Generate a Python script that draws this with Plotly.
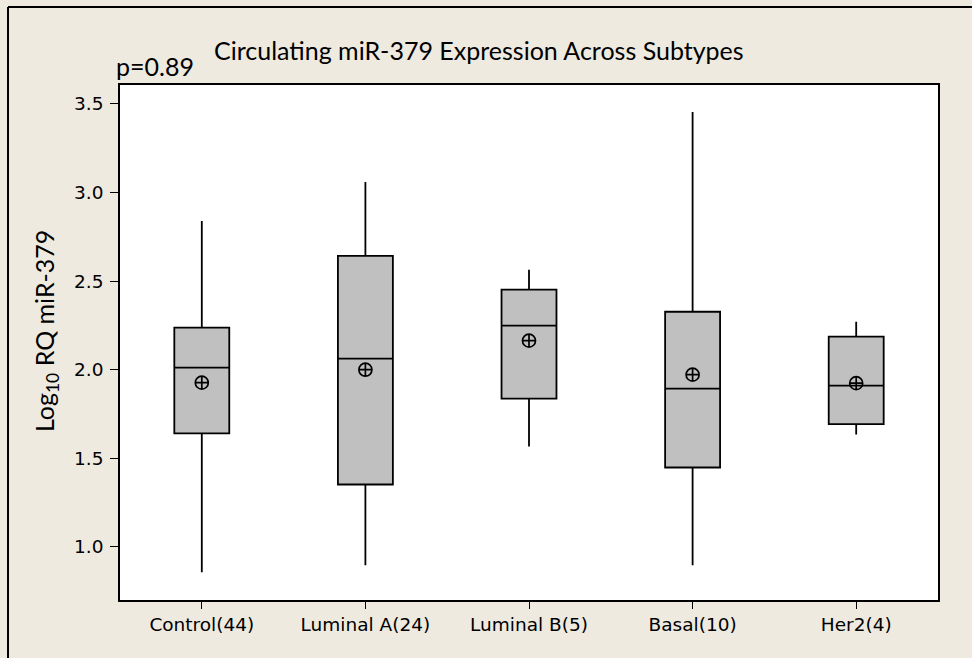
import plotly.graph_objects as go

# Group labels (sample size in brackets)
categories = ["Control(44)", "Luminal A(24)", "Luminal B(5)", "Basal(10)", "Her2(4)"]

# Box statistics of log10 RQ miR-379 per group
lower_whisker = [0.856, 0.896, 1.567, 0.896, 1.634]
q1_values = [1.640, 1.352, 1.837, 1.448, 1.693]
median_values = [2.012, 2.063, 2.249, 1.893, 1.910]
q3_values = [2.237, 2.643, 2.452, 2.327, 2.187]
upper_whisker = [2.840, 3.060, 2.564, 3.455, 2.271]
mean_values = [1.927, 2.000, 2.164, 1.972, 1.924]

y_ticks = [1.0, 1.5, 2.0, 2.5, 3.0, 3.5]

BG = "#EEEAE0"
TICK_FONT = dict(family="DejaVu Sans", size=18.5, color="#000000")
LABEL_FONT = "Lato"

fig = go.Figure()

fig.add_trace(go.Box(
    x=categories,
    q1=q1_values,
    median=median_values,
    q3=q3_values,
    lowerfence=lower_whisker,
    upperfence=upper_whisker,
    width=0.336,
    whiskerwidth=0,
    fillcolor="#C0C0C0",
    line=dict(color="#000000", width=1.8),
    boxpoints=False,
    hoverinfo="skip",
    showlegend=False,
))

fig.add_trace(go.Scatter(
    x=categories,
    y=mean_values,
    mode="markers",
    marker=dict(symbol="circle-cross-open", size=13,
                color="#000000", line=dict(color="#000000", width=1.7)),
    showlegend=False,
    hoverinfo="skip",
))

fig.update_layout(
    width=972,
    height=658,
    margin=dict(l=120, r=34, t=85, b=58),
    paper_bgcolor=BG,
    plot_bgcolor="#FFFFFF",
    showlegend=False,
    xaxis=dict(
        type="category",
        range=[-0.5, 4.5],
        showline=True, mirror=True, linecolor="#000000", linewidth=1.6,
        ticks="outside", ticklen=7, tickwidth=1.4, tickcolor="#000000",
        showgrid=False, zeroline=False,
        tickfont=TICK_FONT,
    ),
    yaxis=dict(
        range=[0.70, 3.607],
        tickvals=y_ticks,
        ticktext=[f"{v:.1f}" for v in y_ticks],
        showline=True, mirror=True, linecolor="#000000", linewidth=1.6,
        ticks="outside", ticklen=8, tickwidth=1.4, tickcolor="#000000",
        ticklabelstandoff=3,
        showgrid=False, zeroline=False,
        tickfont=TICK_FONT,
    ),
    shapes=[
        # outer frame of the figure (left and top edges visible)
        dict(type="line", xref="paper", yref="paper",
             x0=-0.1369, x1=-0.1369, y0=-0.3, y1=1.1515,
             line=dict(color="#000000", width=2)),
        dict(type="line", xref="paper", yref="paper",
             x0=-0.1369, x1=1.2, y0=1.1515, y1=1.1515,
             line=dict(color="#000000", width=2)),
    ],
    annotations=[
        dict(text="Circulating miR-379 Expression Across Subtypes",
             xref="paper", yref="paper", x=0.4389, y=1.068,
             xanchor="center", yanchor="middle", showarrow=False,
             font=dict(family=LABEL_FONT, size=25, color="#000000")),
        dict(text="p=0.89",
             xref="paper", yref="paper", x=0.0428, y=1.037,
             xanchor="center", yanchor="middle", showarrow=False,
             font=dict(family=LABEL_FONT, size=25, color="#000000")),
        dict(text="Log<sub>10</sub> RQ miR-379",
             xref="paper", yref="paper", x=-0.0905, y=0.524,
             xanchor="center", yanchor="middle", textangle=-90, showarrow=False,
             font=dict(family=LABEL_FONT, size=25, color="#000000")),
    ],
)

fig.write_html("out.html")
